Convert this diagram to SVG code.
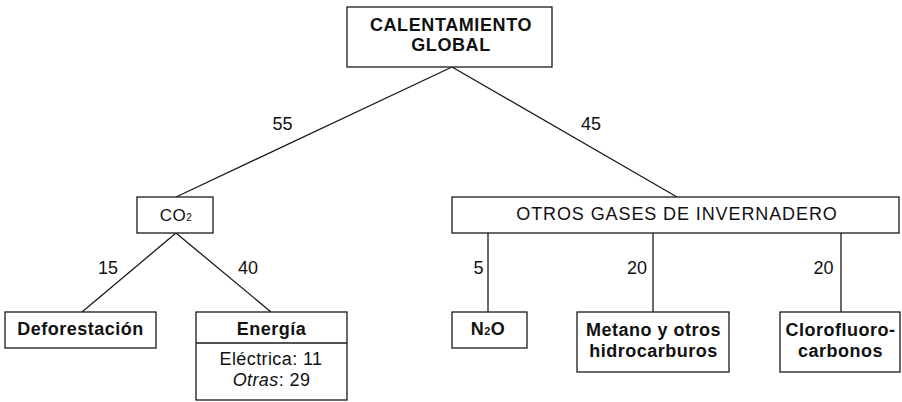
<svg xmlns="http://www.w3.org/2000/svg" width="902" height="402" viewBox="0 0 902 402">
<style>
.box{fill:#fff;stroke:#1a1a1a;stroke-width:1.3}
.ln{stroke:#1a1a1a;stroke-width:1.3;fill:none}
text{font-family:"Liberation Sans",Arial,Helvetica,sans-serif;fill:#111;text-anchor:middle}
.b{font-weight:bold;font-size:18px;letter-spacing:0.5px}
.r{font-size:18px;letter-spacing:0.4px}
.num{font-size:18px}
</style>
<rect width="902" height="402" fill="#fff"/>
<g id="connectors">
<line class="ln" x1="452" y1="67" x2="176" y2="197"/>
<line class="ln" x1="452" y1="67" x2="677" y2="197"/>
<line class="ln" x1="176" y1="233" x2="82" y2="312"/>
<line class="ln" x1="176" y1="233" x2="271" y2="312"/>
<line class="ln" x1="488" y1="233" x2="488" y2="312"/>
<line class="ln" x1="653" y1="233" x2="653" y2="312"/>
<line class="ln" x1="841" y1="233" x2="841" y2="312"/>
<text class="num" x="282.5" y="130">55</text>
<text class="num" x="591" y="130">45</text>
<text class="num" x="108" y="274">15</text>
<text class="num" x="248" y="274">40</text>
<text class="num" x="478.5" y="274">5</text>
<text class="num" x="637" y="274">20</text>
<text class="num" x="823.5" y="274">20</text>
</g>
<g id="calentamiento">
<rect class="box" x="347" y="7" width="205" height="60"/>
<text class="b" x="451" y="31" style="letter-spacing:0.6px">CALENTAMIENTO</text>
<text class="b" x="451" y="51" style="letter-spacing:0.6px">GLOBAL</text>
</g>
<g id="co2">
<rect class="box" x="137" y="197" width="76" height="36"/>
<text x="176" y="221" style="font-size:17px;letter-spacing:0.4px">CO<tspan style="font-size:10px">2</tspan></text>
</g>
<g id="otros">
<rect class="box" x="452" y="197" width="447" height="36"/>
<text x="677" y="220" style="font-size:18px;letter-spacing:0.9px">OTROS GASES DE INVERNADERO</text>
</g>
<g id="deforestacion">
<rect class="box" x="5" y="312" width="151" height="36"/>
<text class="b" x="80.5" y="335">Deforestación</text>
</g>
<g id="energia">
<rect class="box" x="196" y="312" width="151" height="88"/>
<line class="ln" x1="196" y1="343" x2="347" y2="343"/>
<text class="b" x="271.5" y="335">Energía</text>
<text class="r" x="271" y="365">Eléctrica: 11</text>
<text class="r" x="271.5" y="386"><tspan font-style="italic">Otras</tspan>: 29</text>
</g>
<g id="n2o">
<rect class="box" x="452" y="312" width="75" height="36"/>
<text class="b" x="488" y="335">N<tspan style="font-size:11px">2</tspan>O</text>
</g>
<g id="metano">
<rect class="box" x="577" y="312" width="152" height="60"/>
<text class="b" x="653.5" y="336">Metano y otros</text>
<text class="b" x="653.5" y="357">hidrocarburos</text>
</g>
<g id="cloro">
<rect class="box" x="780" y="312" width="120" height="60"/>
<text class="b" x="840.5" y="336">Clorofluoro-</text>
<text class="b" x="840.5" y="357">carbonos</text>
</g>
</svg>
